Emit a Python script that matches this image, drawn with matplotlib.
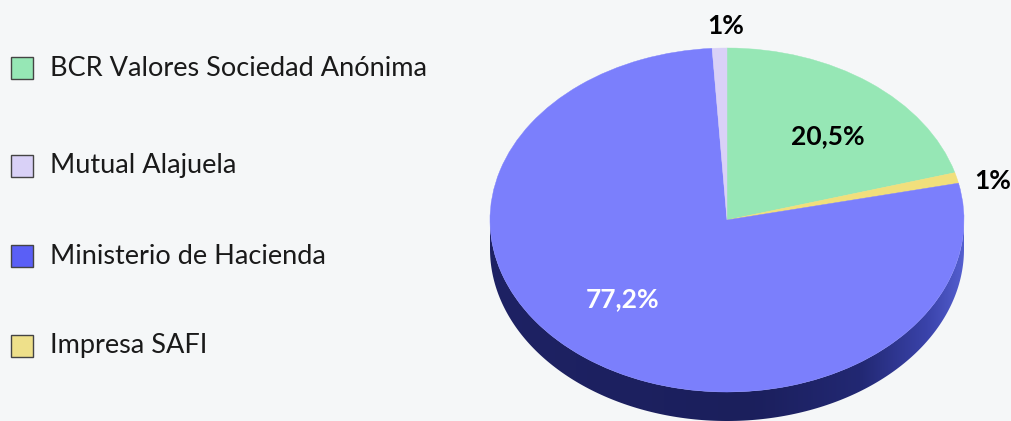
#!/usr/bin/env python3
# -*- coding: utf-8 -*-
"""3D-looking pie: participation by issuer."""

import numpy as np
import matplotlib
matplotlib.use("Agg")
import matplotlib.pyplot as plt
from matplotlib.patches import Wedge, Rectangle, Polygon
from matplotlib.colors import LinearSegmentedColormap
from matplotlib.transforms import Affine2D

# ===============================
# DATA
# ===============================
legend_labels = ["BCR Valores Sociedad Anónima", "Mutual Alajuela",
                 "Ministerio de Hacienda", "Impresa SAFI"]
# slice order, clockwise from 12 o'clock
pie_order = ["BCR Valores Sociedad Anónima", "Impresa SAFI",
             "Ministerio de Hacienda", "Mutual Alajuela"]
values = {"BCR Valores Sociedad Anónima": 20.5, "Impresa SAFI": 1.0,
          "Ministerio de Hacienda": 77.2, "Mutual Alajuela": 1.0}
value_text = {"BCR Valores Sociedad Anónima": "20,5%", "Impresa SAFI": "1%",
              "Ministerio de Hacienda": "77,2%", "Mutual Alajuela": "1%"}

# ===============================
# STYLE
# ===============================
face_colors = {"BCR Valores Sociedad Anónima": "#96e7b5",
               "Mutual Alajuela": "#d9d1f7",
               "Ministerio de Hacienda": "#7b7ffc",
               "Impresa SAFI": "#f1df7c"}
legend_colors = {"BCR Valores Sociedad Anónima": "#96e7b5",
                 "Mutual Alajuela": "#d9d1f7",
                 "Ministerio de Hacienda": "#5a5ff6",
                 "Impresa SAFI": "#eee08a"}
BG = "#f5f7f8"
side_cmap = LinearSegmentedColormap.from_list(
    "side", [(0.0, "#1e2264"), (0.55, "#1b1f5c"), (0.78, "#222873"),
             (0.92, "#3a43aa"), (1.0, "#5560d0")])

W, H = 1011, 421
CX, CY = 727, H - 220      # ellipse centre (pixels, y up)
RX, RY = 237, 172          # ellipse radii
DEPTH = 29

plt.rcParams["font.family"] = ["Lato", "DejaVu Sans"]

fig = plt.figure(figsize=(W / 100, H / 100), dpi=100, facecolor=BG)
ax = fig.add_axes([0, 0, 1, 1])
ax.set_xlim(0, W)
ax.set_ylim(0, H)
ax.axis("off")

squash = Affine2D().scale(RX, RY).translate(CX, CY) + ax.transData

# slice angles (clockwise from top)
total = sum(values[k] for k in pie_order)
angles = {}
start = 90.0
for k in pie_order:
    span = values[k] / total * 360
    angles[k] = (start - span, start)
    start -= span

# side wall (front half), gradient clipped to its outline
th = np.radians(np.linspace(180, 360, 200))
top = np.column_stack([CX + RX * np.cos(th), CY + RY * np.sin(th)])
bot = top[::-1] - [0, DEPTH]
side = Polygon(np.vstack([top, bot]), closed=True, facecolor="none",
               edgecolor="none", zorder=1)
ax.add_patch(side)
grad = np.linspace(0, 1, 256).reshape(1, -1)
im = ax.imshow(grad, cmap=side_cmap, aspect="auto", zorder=1,
               extent=[CX - RX - 2, CX + RX + 2, CY - RY - DEPTH - 2, CY + 2])
im.set_clip_path(side)
ax.set_xlim(0, W)
ax.set_ylim(0, H)

# top face
for k in pie_order:
    a1, a2 = angles[k]
    ax.add_patch(Wedge((0, 0), 1, a1, a2, facecolor=face_colors[k],
                       edgecolor=face_colors[k], linewidth=0.3,
                       transform=squash, zorder=2))

# value labels
label_pos = {"BCR Valores Sociedad Anónima": (828, 136, "#000000"),
             "Impresa SAFI": (993, 181, "#000000"),
             "Ministerio de Hacienda": (623, 299, "#ffffff"),
             "Mutual Alajuela": (726, 26, "#000000")}
for k in pie_order:
    x, y, c = label_pos[k]
    ax.text(x, H - y, value_text[k], ha="center", va="center", fontsize=19,
            fontweight="bold", color=c, zorder=5)

# legend
rows_y = [68, 166, 256, 346]
for k, y in zip(legend_labels, rows_y):
    ax.add_patch(Rectangle((11, H - y - 11), 22, 22, facecolor=legend_colors[k],
                           edgecolor="#444444", linewidth=1.0, zorder=3))
    ax.text(50, H - y, k, ha="left", va="center", fontsize=19.5,
            color="#1a1a1a", zorder=3)

fig.savefig("out.png", dpi=100, facecolor=BG)
